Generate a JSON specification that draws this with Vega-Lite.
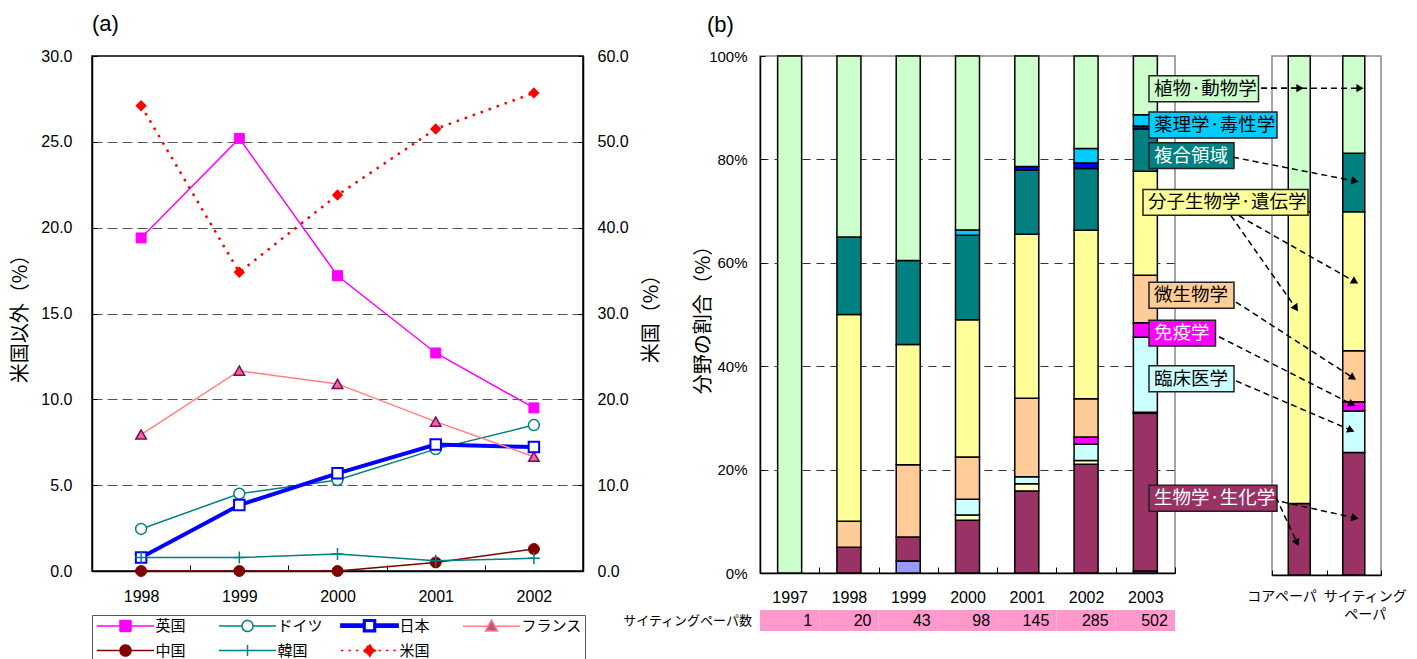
{
  "$schema": "https://vega.github.io/schema/vega-lite/v6.json",
  "padding": {"left": 10, "top": 12, "right": 5, "bottom": 0},
  "bounds": "flush",
  "spacing": 177,
  "datasets": {
    "countries": [
      {"country": "英国", "year": "1998", "value": 19.4},
      {"country": "英国", "year": "1999", "value": 25.2},
      {"country": "英国", "year": "2000", "value": 17.2},
      {"country": "英国", "year": "2001", "value": 12.7},
      {"country": "英国", "year": "2002", "value": 9.5},
      {"country": "ドイツ", "year": "1998", "value": 2.45},
      {"country": "ドイツ", "year": "1999", "value": 4.5},
      {"country": "ドイツ", "year": "2000", "value": 5.3},
      {"country": "ドイツ", "year": "2001", "value": 7.1},
      {"country": "ドイツ", "year": "2002", "value": 8.5},
      {"country": "日本", "year": "1998", "value": 0.78},
      {"country": "日本", "year": "1999", "value": 3.84},
      {"country": "日本", "year": "2000", "value": 5.69},
      {"country": "日本", "year": "2001", "value": 7.37},
      {"country": "日本", "year": "2002", "value": 7.22},
      {"country": "フランス", "year": "1998", "value": 7.95},
      {"country": "フランス", "year": "1999", "value": 11.67},
      {"country": "フランス", "year": "2000", "value": 10.9},
      {"country": "フランス", "year": "2001", "value": 8.7},
      {"country": "フランス", "year": "2002", "value": 6.66},
      {"country": "中国", "year": "1998", "value": 0},
      {"country": "中国", "year": "1999", "value": 0},
      {"country": "中国", "year": "2000", "value": 0},
      {"country": "中国", "year": "2001", "value": 0.5},
      {"country": "中国", "year": "2002", "value": 1.28},
      {"country": "韓国", "year": "1998", "value": 0.78},
      {"country": "韓国", "year": "1999", "value": 0.78},
      {"country": "韓国", "year": "2000", "value": 0.99},
      {"country": "韓国", "year": "2001", "value": 0.6},
      {"country": "韓国", "year": "2002", "value": 0.74},
      {"country": "米国", "year": "1998", "value": 54.2},
      {"country": "米国", "year": "1999", "value": 34.8},
      {"country": "米国", "year": "2000", "value": 43.8},
      {"country": "米国", "year": "2001", "value": 51.5},
      {"country": "米国", "year": "2002", "value": 55.7}
    ],
    "fields": [
      {"year": "1997", "cat": "植物·動物学", "n": 1},
      {"year": "1998", "cat": "生物学·生化学", "n": 1},
      {"year": "1998", "cat": "微生物学", "n": 1},
      {"year": "1998", "cat": "分子生物学·遺伝学", "n": 8},
      {"year": "1998", "cat": "複合領域", "n": 3},
      {"year": "1998", "cat": "植物·動物学", "n": 7},
      {"year": "1999", "cat": "その他1", "n": 1},
      {"year": "1999", "cat": "生物学·生化学", "n": 2},
      {"year": "1999", "cat": "微生物学", "n": 6},
      {"year": "1999", "cat": "分子生物学·遺伝学", "n": 10},
      {"year": "1999", "cat": "複合領域", "n": 7},
      {"year": "1999", "cat": "植物·動物学", "n": 17},
      {"year": "2000", "cat": "生物学·生化学", "n": 10},
      {"year": "2000", "cat": "その他2", "n": 1},
      {"year": "2000", "cat": "臨床医学", "n": 3},
      {"year": "2000", "cat": "微生物学", "n": 8},
      {"year": "2000", "cat": "分子生物学·遺伝学", "n": 26},
      {"year": "2000", "cat": "複合領域", "n": 16},
      {"year": "2000", "cat": "薬理学·毒性学", "n": 1},
      {"year": "2000", "cat": "植物·動物学", "n": 33},
      {"year": "2001", "cat": "生物学·生化学", "n": 23},
      {"year": "2001", "cat": "その他2", "n": 2},
      {"year": "2001", "cat": "臨床医学", "n": 2},
      {"year": "2001", "cat": "微生物学", "n": 22},
      {"year": "2001", "cat": "分子生物学·遺伝学", "n": 46},
      {"year": "2001", "cat": "複合領域", "n": 18},
      {"year": "2001", "cat": "その他3", "n": 1},
      {"year": "2001", "cat": "植物·動物学", "n": 31},
      {"year": "2002", "cat": "生物学·生化学", "n": 60},
      {"year": "2002", "cat": "その他2", "n": 2},
      {"year": "2002", "cat": "臨床医学", "n": 9},
      {"year": "2002", "cat": "免疫学", "n": 4},
      {"year": "2002", "cat": "微生物学", "n": 21},
      {"year": "2002", "cat": "分子生物学·遺伝学", "n": 93},
      {"year": "2002", "cat": "複合領域", "n": 34},
      {"year": "2002", "cat": "その他3", "n": 3},
      {"year": "2002", "cat": "薬理学·毒性学", "n": 8},
      {"year": "2002", "cat": "植物·動物学", "n": 51},
      {"year": "2003", "cat": "その他1", "n": 2},
      {"year": "2003", "cat": "生物学·生化学", "n": 153},
      {"year": "2003", "cat": "その他2", "n": 1},
      {"year": "2003", "cat": "臨床医学", "n": 73},
      {"year": "2003", "cat": "免疫学", "n": 14},
      {"year": "2003", "cat": "微生物学", "n": 46},
      {"year": "2003", "cat": "分子生物学·遺伝学", "n": 101},
      {"year": "2003", "cat": "複合領域", "n": 41},
      {"year": "2003", "cat": "その他3", "n": 3},
      {"year": "2003", "cat": "薬理学·毒性学", "n": 11},
      {"year": "2003", "cat": "植物·動物学", "n": 57}
    ],
    "papers": [
      {"year": "1997", "n": 1},
      {"year": "1998", "n": 20},
      {"year": "1999", "n": 43},
      {"year": "2000", "n": 98},
      {"year": "2001", "n": 145},
      {"year": "2002", "n": 285},
      {"year": "2003", "n": 502}
    ],
    "small": [
      {"type": "コアペーパ", "cat": "生物学·生化学", "pct": 13.8},
      {"type": "コアペーパ", "cat": "分子生物学·遺伝学", "pct": 56.2},
      {"type": "コアペーパ", "cat": "植物·動物学", "pct": 30.0},
      {"type": "サイティングペーパ", "cat": "生物学·生化学", "pct": 23.6},
      {"type": "サイティングペーパ", "cat": "臨床医学", "pct": 8.0},
      {"type": "サイティングペーパ", "cat": "免疫学", "pct": 1.8},
      {"type": "サイティングペーパ", "cat": "微生物学", "pct": 9.8},
      {"type": "サイティングペーパ", "cat": "分子生物学·遺伝学", "pct": 26.8},
      {"type": "サイティングペーパ", "cat": "複合領域", "pct": 11.25},
      {"type": "サイティングペーパ", "cat": "植物·動物学", "pct": 18.75}
    ],
    "labels": [
      {"label": "植物·動物学", "ax": -2.257, "ay": 0.937},
      {"label": "薬理学·毒性学", "ax": -2.257, "ay": 0.867},
      {"label": "複合領域", "ax": -2.257, "ay": 0.808},
      {"label": "分子生物学·遺伝学", "ax": -2.367, "ay": 0.718},
      {"label": "微生物学", "ax": -2.257, "ay": 0.539},
      {"label": "免疫学", "ax": -2.257, "ay": 0.466},
      {"label": "臨床医学", "ax": -2.257, "ay": 0.378},
      {"label": "生物学·生化学", "ax": -2.257, "ay": 0.148}
    ],
    "arrows": [
      {"label": "植物·動物学", "target": "コアペーパ", "sx": -0.202, "sy": 0.938, "ex": 0.514, "ey": 0.938},
      {"label": "植物·動物学", "target": "サイティングペーパ", "sx": -0.202, "sy": 0.938, "ex": 1.615, "ey": 0.938},
      {"label": "複合領域", "target": "サイティングペーパ", "sx": -0.716, "sy": 0.805, "ex": 1.523, "ey": 0.759},
      {"label": "分子生物学·遺伝学", "target": "コアペーパ", "sx": -0.752, "sy": 0.692, "ex": 0.44, "ey": 0.514},
      {"label": "分子生物学·遺伝学", "target": "サイティングペーパ", "sx": -0.606, "sy": 0.692, "ex": 1.523, "ey": 0.565},
      {"label": "微生物学", "target": "サイティングペーパ", "sx": -0.661, "sy": 0.526, "ex": 1.486, "ey": 0.38},
      {"label": "免疫学", "target": "サイティングペーパ", "sx": -0.972, "sy": 0.459, "ex": 1.468, "ey": 0.329},
      {"label": "臨床医学", "target": "サイティングペーパ", "sx": -0.661, "sy": 0.374, "ex": 1.45, "ey": 0.279},
      {"label": "生物学·生化学", "target": "コアペーパ", "sx": 0.073, "sy": 0.15, "ex": 0.459, "ey": 0.062},
      {"label": "生物学·生化学", "target": "サイティングペーパ", "sx": 0.183, "sy": 0.141, "ex": 1.523, "ey": 0.11}
    ]
  },
  "hconcat": [
    {
      "width": 491,
      "height": 515,
      "title": {"text": "(a)", "anchor": "start", "frame": "group", "offset": 12},
      "view": {"stroke": "black", "strokeWidth": 1.5},
      "data": {"name": "countries"},
      "resolve": {"scale": {"y": "independent"}},
      "layer": [
        {
          "transform": [{"filter": "datum.country !== '米国'"}],
          "encoding": {
            "x": {"field": "year", "type": "ordinal", "scale": {"type": "band", "paddingInner": 0, "paddingOuter": 0}, "axis": {"title": null, "labelAngle": 0, "tickBand": "extent", "tickSize": -6, "labelPadding": 23}},
            "y": {"field": "value", "type": "quantitative", "scale": {"domain": [0, 30], "nice": false}, "axis": {"values": [0, 5, 10, 15, 20, 25, 30], "format": ".1f", "tickSize": -5, "labelPadding": 25, "grid": true, "gridDash": [10, 5], "gridColor": "#555", "gridOpacity": {"condition": {"test": "datum.value === 0 || datum.value === 30", "value": 0}, "value": 1}, "title": "米国以外（%）", "titlePadding": 10}}
          },
          "layer": [
            {
              "mark": {"type": "line"},
              "encoding": {
                "detail": {"field": "country", "type": "nominal"},
                "stroke": {"condition": [
                  {"test": "datum.country === '英国'", "value": "#FF00FF"},
                  {"test": "datum.country === '日本'", "value": "#0000FF"},
                  {"test": "datum.country === 'フランス'", "value": "#FF8080"},
                  {"test": "datum.country === '中国'", "value": "#800000"}
                ], "value": "#008080"},
                "strokeWidth": {"condition": {"test": "datum.country === '日本'", "value": 4}, "value": 1.5}
              }
            },
            {"transform": [{"filter": "datum.country === '英国'"}], "mark": {"type": "point", "shape": "square", "filled": true, "fill": "#FF00FF", "stroke": "#FF00FF", "strokeWidth": 1, "size": 100, "opacity": 1}},
            {"transform": [{"filter": "datum.country === 'ドイツ'"}], "mark": {"type": "point", "shape": "circle", "filled": true, "fill": "white", "stroke": "#008080", "strokeWidth": 1.5, "size": 120, "opacity": 1}},
            {"transform": [{"filter": "datum.country === '日本'"}], "mark": {"type": "point", "shape": "square", "filled": true, "fill": "white", "stroke": "#0000FF", "strokeWidth": 2, "size": 110, "opacity": 1}},
            {"transform": [{"filter": "datum.country === 'フランス'"}], "mark": {"type": "point", "shape": "triangle-up", "filled": true, "fill": "#E8707A", "stroke": "#800080", "strokeWidth": 1.5, "size": 110, "opacity": 1}},
            {"transform": [{"filter": "datum.country === '中国'"}], "mark": {"type": "point", "shape": "circle", "filled": true, "fill": "#800000", "stroke": "#800000", "strokeWidth": 1, "size": 120, "opacity": 1}},
            {"transform": [{"filter": "datum.country === '韓国'"}], "mark": {"type": "point", "shape": "M-1,0H1M0,-1V1", "filled": false, "stroke": "#008080", "strokeWidth": 1.5, "size": 144, "opacity": 1}}
          ]
        },
        {
          "transform": [{"filter": "datum.country === '米国'"}],
          "encoding": {
            "x": {"field": "year", "type": "ordinal", "scale": {"type": "band", "paddingInner": 0, "paddingOuter": 0}, "axis": {"title": null, "labelAngle": 0, "tickBand": "extent", "tickSize": -6, "labelPadding": 23}},
            "y": {"field": "value", "type": "quantitative", "scale": {"domain": [0, 60], "nice": false}, "axis": {"orient": "right", "values": [0, 10, 20, 30, 40, 50, 60], "format": ".1f", "tickSize": -5, "labelPadding": 19, "grid": false, "title": "米国（%）", "titleAngle": 270, "titlePadding": 33}}
          },
          "layer": [
            {"mark": {"type": "line", "stroke": "#FF0000", "strokeWidth": 2.5, "strokeDash": [2.5, 6]}},
            {"mark": {"type": "point", "shape": "diamond", "filled": true, "fill": "#FF0000", "size": 130, "opacity": 1}}
          ]
        },
        {
          "mark": {"type": "point", "filled": true, "opacity": 0},
          "encoding": {
            "stroke": {"field": "country", "type": "nominal", "scale": {"domain": ["英国", "ドイツ", "日本", "フランス", "中国", "韓国", "米国"], "range": ["#FF00FF", "#008080", "#0000FF", "#FF8080", "#800000", "#008080", "#FF0000"]}, "legend": {"orient": "none", "legendX": 0, "legendY": 559, "direction": "horizontal", "columns": 4, "title": null, "strokeColor": "#555", "fillColor": "white", "padding": 3, "symbolSize": 121, "symbolOffset": 23, "labelOffset": 22.5, "symbolStrokeWidth": 1.5, "symbolOpacity": 1, "rowPadding": 6, "columnPadding": -1, "gridAlign": "all"}},
            "fill": {"field": "country", "type": "nominal", "scale": {"domain": ["英国", "ドイツ", "日本", "フランス", "中国", "韓国", "米国"], "range": ["#FF00FF", "white", "#0000FF", "#C0508A", "#800000", "transparent", "#FF0000"]}, "legend": {"orient": "none", "legendX": 0, "legendY": 559, "direction": "horizontal", "columns": 4, "title": null, "strokeColor": "#555", "fillColor": "white", "padding": 3, "symbolSize": 121, "symbolOffset": 23, "labelOffset": 22.5, "symbolStrokeWidth": 1.5, "symbolOpacity": 1, "rowPadding": 6, "columnPadding": -1, "gridAlign": "all"}},
            "shape": {"field": "country", "type": "nominal", "scale": {"domain": ["英国", "ドイツ", "日本", "フランス", "中国", "韓国", "米国"], "range": ["M-5.2,0H5.2M-1,-1H1V1H-1Z", "M-5.2,0H-1M1,0H5.2M1,0A1,1,0,1,1,-1,0A1,1,0,1,1,1,0Z", "M-5.2,-0.3H-1.1V0.3H-5.2ZM1.1,-0.3H5.2V0.3H1.1ZM-1.1,-1.1H1.1V1.1H-1.1ZM-0.8,-0.8V0.8H0.8V-0.8Z", "M-5.2,0H-0.6M0.6,0H5.2M0,-1.15L1.1,0.85H-1.1Z", "M-5.2,0H5.2M1,0A1,1,0,1,1,-1,0A1,1,0,1,1,1,0Z", "M-5.2,0H5.2M0,-1V1", "M-5.2,0H5.2M0,-1.1L1.1,0L0,1.1L-1.1,0Z"]}, "legend": {"orient": "none", "legendX": 0, "legendY": 559, "direction": "horizontal", "columns": 4, "title": null, "strokeColor": "#555", "fillColor": "white", "padding": 3, "symbolSize": 121, "symbolOffset": 23, "labelOffset": 22.5, "symbolStrokeWidth": 1.5, "symbolOpacity": 1, "rowPadding": 6, "columnPadding": -1, "gridAlign": "all"}},
            "strokeDash": {"field": "country", "type": "nominal", "scale": {"domain": ["英国", "ドイツ", "日本", "フランス", "中国", "韓国", "米国"], "range": [[1, 0], [1, 0], [1, 0], [1, 0], [1, 0], [1, 0], [2.5, 5]]}, "legend": {"orient": "none", "legendX": 0, "legendY": 559, "direction": "horizontal", "columns": 4, "title": null, "strokeColor": "#555", "fillColor": "white", "padding": 3, "symbolSize": 121, "symbolOffset": 23, "labelOffset": 22.5, "symbolStrokeWidth": 1.5, "symbolOpacity": 1, "rowPadding": 6, "columnPadding": -1, "gridAlign": "all"}}
          }
        }
      ]
    },
    {
      "bounds": "flush",
      "spacing": 97,
      "hconcat": [
        {
          "width": 415,
          "height": 517,
          "title": {"text": "(b)", "anchor": "start", "frame": "group", "offset": 12, "dx": -53},
          "view": {"stroke": "#888", "strokeWidth": 1.5},
          "layer": [
            {
              "data": {"name": "fields"},
              "transform": [{"calculate": "indexof(['その他1','生物学·生化学','その他2','臨床医学','免疫学','微生物学','分子生物学·遺伝学','複合領域','その他3','薬理学·毒性学','植物·動物学'], datum.cat)", "as": "ord"}],
              "mark": {"type": "bar", "width": 24, "stroke": "black", "strokeWidth": 1.5},
              "encoding": {
                "x": {"field": "year", "type": "ordinal", "scale": {"paddingInner": 0, "paddingOuter": 0}, "axis": {"title": null, "labelAngle": 0, "tickBand": "extent", "tickSize": -6, "labelPadding": 22}},
                "y": {"field": "n", "type": "quantitative", "stack": "normalize", "scale": {"domain": [0, 1]}, "axis": {"values": [0, 0.2, 0.4, 0.6, 0.8, 1], "format": ".0%", "tickSize": -5, "labelPadding": 18, "labelFontSize": 15, "grid": true, "gridDash": [8, 6], "gridColor": "#333", "gridOpacity": {"condition": {"test": "datum.value === 0 || datum.value === 1", "value": 0}, "value": 1}, "title": "分野の割合（%）", "titlePadding": -5}},
                "color": {"field": "cat", "type": "nominal", "scale": {"domain": ["その他1", "生物学·生化学", "その他2", "臨床医学", "免疫学", "微生物学", "分子生物学·遺伝学", "複合領域", "その他3", "薬理学·毒性学", "植物·動物学"], "range": ["#9999FF", "#993366", "#FFFFCC", "#CCFFFF", "#FF00FF", "#FFCC99", "#FFFF99", "#008080", "#0000FF", "#00CCFF", "#CCFFCC"]}, "legend": null},
                "order": {"field": "ord", "type": "quantitative"}
              }
            },
            {
              "data": {"name": "papers"},
              "mark": {"type": "rect", "fill": "#FF99CC"},
              "encoding": {
                "x": {"field": "year", "type": "ordinal"},
                "y": {"datum": -0.0716, "type": "quantitative"},
                "y2": {"datum": -0.1122}
              }
            },
            {
              "data": {"name": "papers"},
              "mark": {"type": "text", "align": "right", "baseline": "middle", "font": "Liberation Sans", "fontSize": 16, "color": "black"},
              "encoding": {
                "x": {"field": "year", "type": "ordinal", "bandPosition": 0.88},
                "y": {"datum": -0.092, "type": "quantitative"},
                "text": {"field": "n", "type": "quantitative"}
              }
            },
            {
              "data": {"values": [{"year": "1997", "label": "サイティングペーパ数"}]},
              "mark": {"type": "text", "align": "right", "baseline": "middle", "dx": -8, "font": "Noto Sans CJK JP", "fontSize": 13, "color": "black"},
              "encoding": {
                "x": {"field": "year", "type": "ordinal", "bandPosition": 0},
                "y": {"datum": -0.092, "type": "quantitative"},
                "text": {"field": "label"}
              }
            }
          ]
        },
        {
          "width": 109,
          "height": 519,
          "view": {"stroke": "#888", "strokeWidth": 1.5},
          "resolve": {"scale": {"x": "independent"}},
          "layer": [
            {
              "data": {"name": "small"},
              "transform": [{"calculate": "indexof(['その他1','生物学·生化学','その他2','臨床医学','免疫学','微生物学','分子生物学·遺伝学','複合領域','その他3','薬理学·毒性学','植物·動物学'], datum.cat)", "as": "ord"}],
              "mark": {"type": "bar", "width": 22, "stroke": "black", "strokeWidth": 1.5},
              "encoding": {
                "x": {"field": "type", "type": "nominal", "sort": ["コアペーパ", "サイティングペーパ"], "scale": {"paddingInner": 0, "paddingOuter": 0}, "axis": {"title": null, "labelAngle": 0, "tickBand": "extent", "tickSize": -5, "labelPadding": 19, "labelFont": "Noto Sans CJK JP", "labelFontSize": 14, "labelLineHeight": 18, "labelAlign": {"condition": {"test": "datum.value === 'コアペーパ'", "value": "right"}, "value": "center"}, "labelOffset": {"condition": {"test": "datum.value === 'コアペーパ'", "value": 17}, "value": 11}, "labelExpr": "datum.value === 'サイティングペーパ' ? ['サイティング', 'ペーパ'] : datum.value"}},
                "y": {"field": "pct", "type": "quantitative", "stack": "normalize", "axis": {"values": [0.1, 0.2, 0.3, 0.4, 0.5, 0.6, 0.7, 0.8, 0.9], "labels": false, "ticks": false, "domain": false, "grid": true, "gridDash": [8, 6], "gridColor": "#333", "title": null}},
                "color": {"field": "cat", "type": "nominal", "scale": {"domain": ["その他1", "生物学·生化学", "その他2", "臨床医学", "免疫学", "微生物学", "分子生物学·遺伝学", "複合領域", "その他3", "薬理学·毒性学", "植物·動物学"], "range": ["#9999FF", "#993366", "#FFFFCC", "#CCFFFF", "#FF00FF", "#FFCC99", "#FFFF99", "#008080", "#0000FF", "#00CCFF", "#CCFFCC"]}, "legend": null},
                "order": {"field": "ord", "type": "quantitative"}
              }
            },
            {
              "layer": [
                {
                  "data": {"name": "labels"},
                  "transform": [
                    {"calculate": "datum.ax + (length(replace(datum.label, '·', '')) * 18.5 + (indexof(datum.label, '·') >= 0 ? 6 : 0) + 11) / 54.5", "as": "ax2"},
                    {"calculate": "datum.ay - 0.025", "as": "ay1"},
                    {"calculate": "datum.ay + 0.025", "as": "ay2"}
                  ],
                  "mark": {"type": "rect", "stroke": "#222", "strokeWidth": 1.5},
                  "encoding": {
                    "x": {"field": "ax", "type": "quantitative", "scale": {"domain": [0, 2], "nice": false, "zero": false}, "axis": null},
                    "x2": {"field": "ax2"},
                    "y": {"field": "ay1", "type": "quantitative", "axis": null},
                    "y2": {"field": "ay2"},
                    "color": {"field": "label", "type": "nominal", "scale": {"domain": ["その他1", "生物学·生化学", "その他2", "臨床医学", "免疫学", "微生物学", "分子生物学·遺伝学", "複合領域", "その他3", "薬理学·毒性学", "植物·動物学"], "range": ["#9999FF", "#993366", "#FFFFCC", "#CCFFFF", "#FF00FF", "#FFCC99", "#FFFF99", "#008080", "#0000FF", "#00CCFF", "#CCFFCC"]}, "legend": null}
                  }
                },
                {
                  "data": {"name": "labels"},
                  "mark": {"type": "text", "align": "left", "baseline": "middle", "dx": 5, "font": "Noto Sans CJK JP", "fontSize": 18.5},
                  "encoding": {
                    "x": {"field": "ax", "type": "quantitative", "scale": {"domain": [0, 2], "nice": false, "zero": false}, "axis": null},
                    "y": {"field": "ay", "type": "quantitative", "axis": null},
                    "text": {"field": "label"},
                    "color": {"condition": {"test": "datum.label === '複合領域' || datum.label === '免疫学' || datum.label === '生物学·生化学'", "value": "white"}, "value": "black"}
                  }
                },
                {
                  "data": {"name": "arrows"},
                  "mark": {"type": "rule", "color": "black", "strokeWidth": 1.5, "strokeDash": [6, 4]},
                  "encoding": {
                    "x": {"field": "sx", "type": "quantitative", "scale": {"domain": [0, 2], "nice": false, "zero": false}, "axis": null},
                    "y": {"field": "sy", "type": "quantitative", "axis": null},
                    "x2": {"field": "ex"},
                    "y2": {"field": "ey"}
                  }
                },
                {
                  "data": {"name": "arrows"},
                  "transform": [{"calculate": "atan2((datum.sy - datum.ey) * 519, (datum.ex - datum.sx) * 54.5) * 180 / PI", "as": "ang"}],
                  "mark": {"type": "point", "shape": "triangle-right", "filled": true, "color": "black", "size": 70, "opacity": 1},
                  "encoding": {
                    "x": {"field": "ex", "type": "quantitative", "scale": {"domain": [0, 2], "nice": false, "zero": false}, "axis": null},
                    "y": {"field": "ey", "type": "quantitative", "axis": null},
                    "angle": {"field": "ang", "type": "quantitative", "scale": null}
                  }
                }
              ]
            }
          ]
        }
      ]
    }
  ],
  "config": {
    "font": "Liberation Sans",
    "view": {"stroke": null},
    "axis": {"labelFont": "Liberation Sans", "labelFontSize": 16, "labelColor": "black", "titleFont": "Noto Sans CJK JP", "titleFontSize": 20, "titleFontWeight": "normal", "titleColor": "black", "domainColor": "black", "domainWidth": 1.5, "tickColor": "black"},
    "title": {"font": "Liberation Sans", "fontSize": 22, "fontWeight": "normal", "color": "black"},
    "legend": {"labelFont": "Noto Sans CJK JP", "labelFontSize": 15, "labelColor": "black"}
  }
}
